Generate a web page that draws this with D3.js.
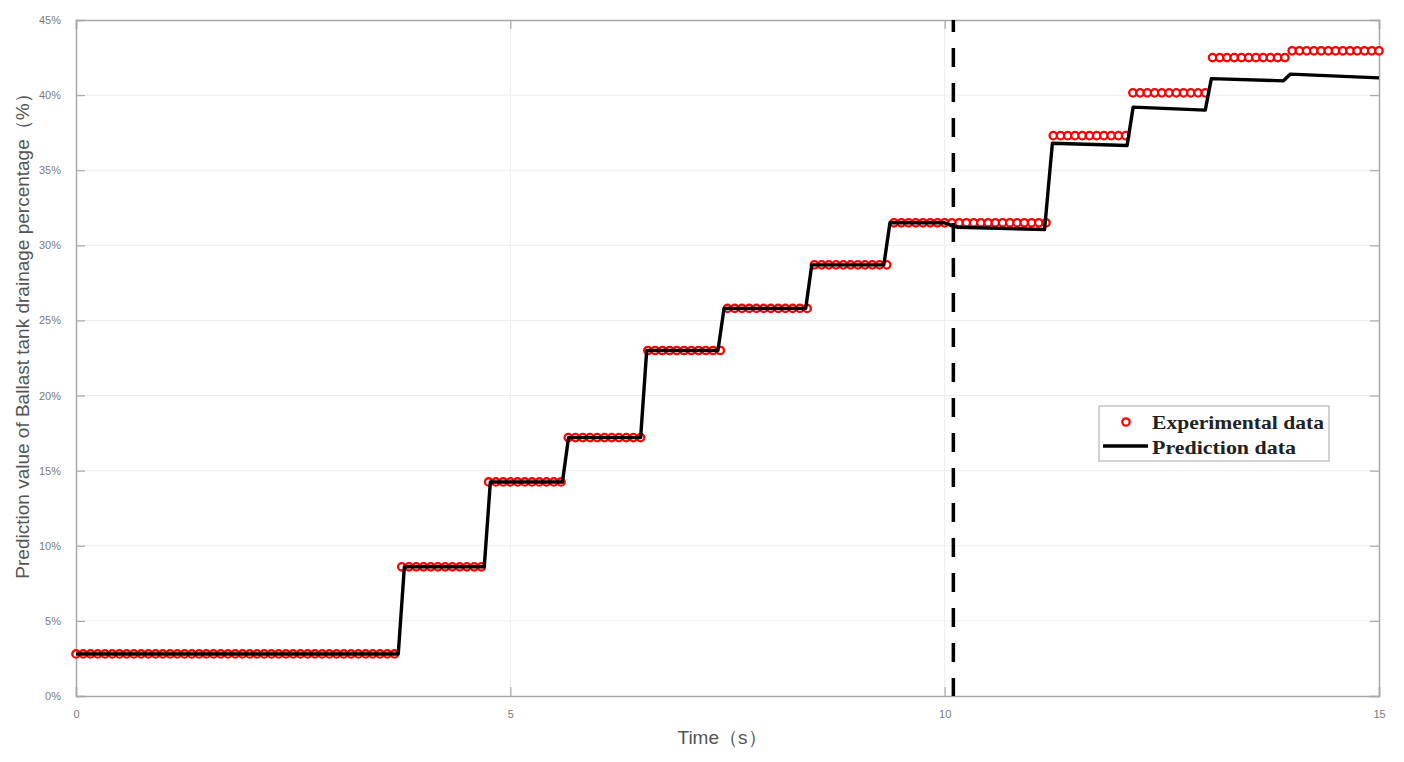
<!DOCTYPE html>
<html>
<head>
<meta charset="utf-8">
<script src="https://cdn.jsdelivr.net/npm/d3@7"></script>
<style>
  html, body { margin: 0; padding: 0; background: #fff; }
  svg { display: block; }
</style>
</head>
<body>
<svg id="chart" width="1404" height="762"></svg>
<script>
// ---- Data ----
// Experimental data: step levels (%) and the time (s) at which each level begins
const expStepStart = [0, 3.75, 4.75, 5.65, 6.55, 7.45, 8.45, 9.35, 11.25, 12.15, 13.05, 13.95];
const expStepValue = [2.8, 8.6, 14.25, 17.2, 23.0, 25.8, 28.7, 31.5, 37.3, 40.15, 42.5, 42.95];
const expSampleCount = 180;  // number of sampling intervals over 0–15 s
const expEnd = 15;

// Prediction line vertices
const predTime  = [0, 3.71, 3.78, 4.70, 4.77, 5.60, 5.67, 6.50, 6.57, 7.39, 7.46, 8.40, 8.47, 9.30, 9.37, 10.0, 10.15, 11.15, 11.24, 12.10, 12.17, 13.00, 13.07, 13.90, 13.98, 15.0];
const predValue = [2.8, 2.8, 8.6, 8.6, 14.25, 14.25, 17.2, 17.2, 23.0, 23.0, 25.8, 25.8, 28.7, 28.7, 31.5, 31.5, 31.2, 31.05, 36.8, 36.65, 39.2, 39.0, 41.1, 40.95, 41.4, 41.15];

const markerLineX = 10.1;    // dashed vertical divider

const xTicks = [0, 5, 10, 15];
const yTicks = [0, 5, 10, 15, 20, 25, 30, 35, 40, 45];

const seriesNames = ["Experimental data", "Prediction data"];
const xLabel = "Time（s）";
const yLabel = "Prediction value of Ballast tank drainage percentage（%）";

// ---- Build experimental samples from the read step levels ----
const expTime = d3.range(0, expSampleCount + 1).map(i => i * expEnd / expSampleCount);
const expData = expTime.map(t => {
  let v = expStepValue[0];
  for (let i = 0; i < expStepStart.length; i++) if (t >= expStepStart[i] - 1e-9) v = expStepValue[i];
  return { t, v };
});
const predData = predTime.map((t, i) => ({ t, v: predValue[i] }));

// ---- Layout ----
const svg = d3.select("#chart");
const L = 76, R = 1379, T = 20, B = 696;
const x = d3.scaleLinear().domain([0, 15]).range([L, R]);
const y = d3.scaleLinear().domain([0, 45]).range([B, T]);

const axisColor = "#a8a8a8";
const tickTextColor = "#7a7a7a";
const font = "'Liberation Sans', Arial, sans-serif";

// grid
const grid = svg.append("g");
grid.selectAll("line.gy").data(yTicks.slice(1, -1)).join("line")
  .attr("x1", L).attr("x2", R).attr("y1", d => y(d)).attr("y2", d => y(d))
  .attr("stroke", "#ececec").attr("stroke-width", 1);
grid.selectAll("line.gx").data(xTicks.slice(1, -1)).join("line")
  .attr("y1", T).attr("y2", B).attr("x1", d => x(d)).attr("x2", d => x(d))
  .attr("stroke", "#ececec").attr("stroke-width", 1);

// axes (ticks inward)
const xAxis = d3.axisBottom(x).tickValues(xTicks).tickSize(-9).tickPadding(14).tickFormat(d3.format("d"));
const yAxis = d3.axisLeft(y).tickValues(yTicks).tickSize(-9).tickPadding(15).tickFormat(d => d + "%");
const xTop = d3.axisTop(x).tickValues(xTicks).tickSize(-9).tickFormat("");
const yRight = d3.axisRight(y).tickValues(yTicks).tickSize(-9).tickFormat("");

function styleAxis(g) {
  g.select(".domain").attr("stroke", axisColor).attr("stroke-width", 1.5);
  g.selectAll(".tick line").attr("stroke", axisColor).attr("stroke-width", 1.2);
  g.selectAll(".tick text").attr("fill", tickTextColor).attr("font-family", font).attr("font-size", 11);
}
svg.append("g").attr("transform", `translate(0,${B})`).call(xAxis).call(styleAxis);
svg.append("g").attr("transform", `translate(${L},0)`).call(yAxis).call(styleAxis);
svg.append("g").attr("transform", `translate(0,${T})`).call(xTop).call(styleAxis);
svg.append("g").attr("transform", `translate(${R},0)`).call(yRight).call(styleAxis);

// experimental markers
svg.append("g").selectAll("circle").data(expData).join("circle")
  .attr("cx", d => x(d.t)).attr("cy", d => y(d.v)).attr("r", 3.7)
  .attr("fill", "#fff").attr("stroke", "#ff0000").attr("stroke-width", 2.3);

// prediction line
const line = d3.line().x(d => x(d.t)).y(d => y(d.v));
svg.append("path").datum(predData).attr("d", line)
  .attr("fill", "none").attr("stroke", "#000").attr("stroke-width", 3.4)
  .attr("stroke-linejoin", "round");

// dashed divider
svg.append("line")
  .attr("x1", x(markerLineX)).attr("x2", x(markerLineX)).attr("y1", T).attr("y2", B)
  .attr("stroke", "#000").attr("stroke-width", 3.5)
  .attr("stroke-dasharray", "19,16").attr("stroke-dashoffset", 7);

// axis labels
svg.append("text").attr("x", 722).attr("y", 744)
  .attr("text-anchor", "middle").attr("font-family", font).attr("font-size", 19)
  .attr("fill", "#555").text(xLabel);
svg.append("text")
  .attr("transform", `translate(29,${(88 + 575) / 2}) rotate(-90)`)
  .attr("text-anchor", "middle").attr("font-family", font).attr("font-size", 19)
  .attr("fill", "#555").text(yLabel);

// legend
const lg = svg.append("g");
lg.append("rect").attr("x", 1099).attr("y", 406).attr("width", 230).attr("height", 55)
  .attr("fill", "#fff").attr("stroke", "#b5b5b5").attr("stroke-width", 1.2);
lg.append("circle").attr("cx", 1126).attr("cy", 422).attr("r", 3.7)
  .attr("fill", "#fff").attr("stroke", "#ff0000").attr("stroke-width", 2.3);
lg.append("line").attr("x1", 1103).attr("x2", 1148).attr("y1", 446).attr("y2", 446)
  .attr("stroke", "#000").attr("stroke-width", 3.4);
const serif = "'Liberation Serif', 'Times New Roman', serif";
lg.append("text").attr("x", 1152).attr("y", 429).attr("font-family", serif)
  .attr("font-weight", "bold").attr("font-size", 19).attr("fill", "#222")
  .attr("textLength", 172).attr("lengthAdjust", "spacingAndGlyphs").text(seriesNames[0]);
lg.append("text").attr("x", 1152).attr("y", 454).attr("font-family", serif)
  .attr("font-weight", "bold").attr("font-size", 19).attr("fill", "#222")
  .attr("textLength", 144).attr("lengthAdjust", "spacingAndGlyphs").text(seriesNames[1]);
</script>
</body>
</html>
